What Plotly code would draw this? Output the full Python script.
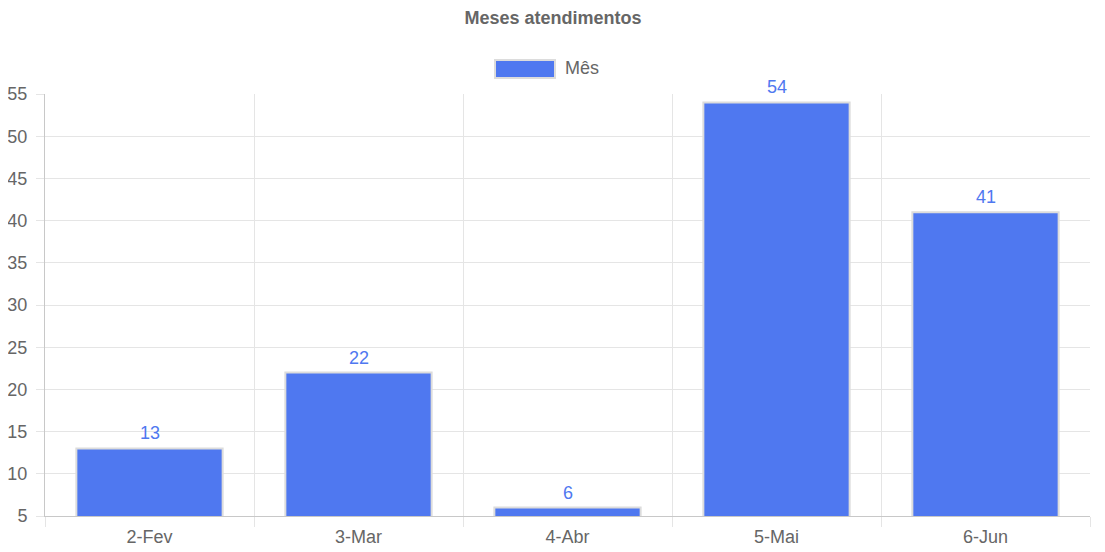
import plotly.graph_objects as go

categories = ["2-Fev", "3-Mar", "4-Abr", "5-Mai", "6-Jun"]
values = [13, 22, 6, 54, 41]
series_name = "Mês"
title_text = "Meses atendimentos"
y_ticks = [5, 10, 15, 20, 25, 30, 35, 40, 45, 50, 55]

W, H = 1105, 552
OFF = 8  # page body margin offset
# target plot area in screenshot px: x 45..1090, y 94..516
ml = 45 - OFF
mt = 94 - OFF
mr = W + OFF - 1090
mb = H + OFF - 516
bar_color = "#4f78f0"
border_color = "#dcdcdc"
text_gray = "#666666"
font_family = "Liberation Sans, Arial, sans-serif"
fs = 18

fig = go.Figure()
fig.add_trace(go.Bar(
    x=categories, y=values, name=series_name,
    marker=dict(color=bar_color, line=dict(color=border_color, width=2)),
    width=0.7, showlegend=False, hoverinfo="x+y",
))

for c, v in zip(categories, values):
    fig.add_annotation(x=c, y=v, text=str(v), showarrow=False, yanchor="bottom",
                       yshift=3, font=dict(size=fs, color=bar_color, family=font_family))

pw = W - ml - mr
ph = H - mt - mb
def px_to_paper_x(px):
    return (px - OFF - ml) / pw
def px_to_paper_y(py):
    return (H - mb - (py - OFF)) / ph

fig.add_shape(type="rect", xref="paper", yref="paper",
              x0=px_to_paper_x(495), x1=px_to_paper_x(555),
              y0=px_to_paper_y(78), y1=px_to_paper_y(60),
              fillcolor=bar_color, line=dict(color=border_color, width=2))
fig.add_annotation(xref="paper", yref="paper", x=px_to_paper_x(563), y=px_to_paper_y(68),
                   text=series_name, showarrow=False, xanchor="left", yanchor="middle",
                   font=dict(size=fs, color=text_gray, family=font_family))

fig.update_layout(
    width=W, height=H,
    margin=dict(l=ml, r=mr, t=mt, b=mb, autoexpand=False),
    paper_bgcolor="white", plot_bgcolor="white",
    title=dict(text="<b>" + title_text + "</b>", x=(553 - OFF) / W, xanchor="center",
               y=1 - (18 - OFF) / H, yanchor="middle",
               font=dict(size=fs, color=text_gray, family=font_family)),
    font=dict(family=font_family, color=text_gray, size=fs),
)
fig.update_xaxes(
    type="category", tickson="boundaries", showgrid=True, gridcolor="#e5e5e5", gridwidth=1,
    ticks="outside", ticklen=10, tickcolor="#e5e5e5", ticklabelstandoff=4,
    showline=True, linecolor="#c8c8c8", linewidth=1, automargin=False,
    tickfont=dict(size=fs, color=text_gray), fixedrange=True,
)
fig.update_yaxes(
    range=[5, 55], tickvals=y_ticks, showgrid=True, gridcolor="#e5e5e5", gridwidth=1,
    ticks="outside", ticklen=8, tickcolor="#e5e5e5", automargin=False, ticklabelstandoff=5,
    showline=True, linecolor="#c8c8c8", linewidth=1, zeroline=False,
    tickfont=dict(size=fs, color=text_gray), fixedrange=True,
)

fig.write_html("out.html")
